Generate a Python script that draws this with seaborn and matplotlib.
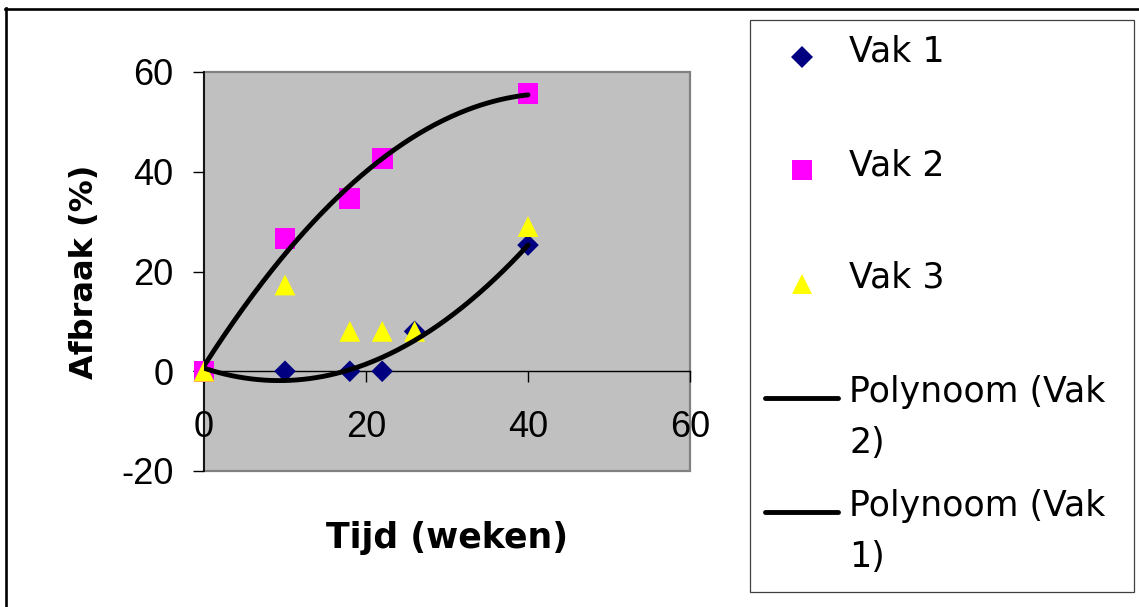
import numpy as np
import seaborn as sns
import matplotlib.pyplot as plt
from matplotlib.lines import Line2D
from matplotlib.patches import Rectangle

# Measurements per plot ("vak"): time in weeks and degradation in percent
weeks_vak1 = [0, 10, 18, 22, 26, 40]
afbraak_vak1 = [0, 0, 0, 0, 8, 25.3]
weeks_vak2 = [0, 10, 18, 22, 40]
afbraak_vak2 = [0, 26.7, 34.7, 42.7, 55.7]
weeks_vak3 = [0, 10, 18, 22, 26, 40]
afbraak_vak3 = [0, 17.3, 8, 8, 8, 29]

series_names = ["Vak 1", "Vak 2", "Vak 3"]
trend_names = ["Polynoom (Vak 2)", "Polynoom (Vak 1)"]
x_ticks = [0, 20, 40, 60]
y_ticks = [-20, 0, 20, 40, 60]
x_label = "Tijd (weken)"
y_label = "Afbraak (%)"

plt.rcParams["axes.unicode_minus"] = False

W, H = 1139, 607
fig = plt.figure(figsize=(W / 100, H / 100), dpi=100)
fig.patch.set_facecolor("white")


def fx(px):
    return px / W


def fy(py):
    return 1 - py / H


ax = fig.add_axes([fx(204), fy(471), (690 - 204) / W, (471 - 72) / H])
ax.set_facecolor("#C0C0C0")

# Scatter series (diamond drawn a bit smaller so its width equals the square's)
styles = [
    dict(marker="D", color="#000080", s=11 ** 2),
    dict(marker="s", color="#FF00FF", s=15 ** 2),
    dict(marker="^", color="#FFFF00", s=15 ** 2),
]
data = [(weeks_vak1, afbraak_vak1), (weeks_vak2, afbraak_vak2), (weeks_vak3, afbraak_vak3)]
for (xs, ys), st in zip(data, styles):
    sns.scatterplot(x=xs, y=ys, ax=ax, marker=st["marker"], color=st["color"],
                    s=st["s"], linewidth=0, edgecolor="none", legend=False,
                    clip_on=False, zorder=3)

# Second-order polynomial trendlines
for xs, ys in [(weeks_vak2, afbraak_vak2), (weeks_vak1, afbraak_vak1)]:
    coef = np.polyfit(xs, ys, 2)
    xx = np.linspace(min(xs), max(xs), 200)
    sns.lineplot(x=xx, y=np.polyval(coef, xx), ax=ax, color="black", lw=3.5,
                 legend=False, zorder=4, solid_capstyle="round")

ax.set_xlim(0, 60)
ax.set_ylim(-20, 60)
ax.set_xticks(x_ticks)
ax.set_xticklabels([str(v) for v in x_ticks])
ax.set_yticks(y_ticks)
ax.set_yticklabels([str(v) for v in y_ticks])

ax.spines["top"].set_visible(False)
ax.spines["right"].set_visible(False)
ax.spines["bottom"].set_position(("data", 0))
ax.spines["bottom"].set_color("black")
ax.spines["bottom"].set_linewidth(1.0)
ax.spines["left"].set_color("black")
ax.spines["left"].set_linewidth(1.2)
ax.spines["left"].set_zorder(2.6)

# Plot-area frame
ax.add_patch(Rectangle((0, 0), 1, 1, transform=ax.transAxes, fill=False,
                       ec="#808080", lw=1.6, clip_on=False, zorder=1))

ax.tick_params(axis="both", direction="out", length=8, width=1, color="black",
               labelsize=26, labelcolor="black")
ax.tick_params(axis="x", pad=20)
ax.tick_params(axis="y", pad=14)
for lab in ax.get_xticklabels() + ax.get_yticklabels():
    lab.set_family("Liberation Sans")

ax.set_xlabel(x_label, fontsize=25, fontweight="bold", family="DejaVu Sans",
              ha="center", va="center")
ax.xaxis.set_label_coords(0.5, -0.167)
ax.set_ylabel(y_label, fontsize=23, fontweight="bold", family="DejaVu Sans",
              ha="center", va="center")
ax.yaxis.set_label_coords((84 - 204) / 486, 0.5)

# Legend panel
fig.add_artist(Rectangle((fx(750), fy(592)), (1134 - 750) / W, (592 - 20) / H,
                         transform=fig.transFigure, facecolor="white",
                         edgecolor="#404040", lw=0.9, zorder=0))
marker_rows = [57, 170, 284]
text_rows = [62, 175, 288]
for name, st, my, ty in zip(series_names, styles, marker_rows, text_rows):
    fig.add_artist(Line2D([fx(802)], [fy(my)], transform=fig.transFigure,
                          marker=st["marker"], markersize=np.sqrt(st["s"]),
                          color=st["color"], markeredgewidth=0, linestyle="none"))
    fig.text(fx(849), fy(ty), name, fontsize=25, family="DejaVu Sans",
             ha="left", va="baseline")

line_rows = [398, 512]
trend_text_rows = [(402, 453), (516, 567)]
for name, ly, (t1, t2) in zip(trend_names, line_rows, trend_text_rows):
    fig.add_artist(Line2D([fx(765), fx(838)], [fy(ly), fy(ly)], transform=fig.transFigure,
                          color="black", lw=3.5, solid_capstyle="round"))
    head, tail = name.rsplit(" ", 1)
    fig.text(fx(849), fy(t1), head, fontsize=25, family="DejaVu Sans",
             ha="left", va="baseline")
    fig.text(fx(849), fy(t2), tail, fontsize=25, family="DejaVu Sans",
             ha="left", va="baseline")

# Outer chart border
fig.add_artist(Line2D([fx(6.2), fx(6.2)], [fy(7.5), 0], transform=fig.transFigure,
                      color="black", lw=1.9))
fig.add_artist(Line2D([fx(5), 1], [fy(8.7), fy(8.7)], transform=fig.transFigure,
                      color="black", lw=1.9))

fig.savefig("out.png", dpi=100)
